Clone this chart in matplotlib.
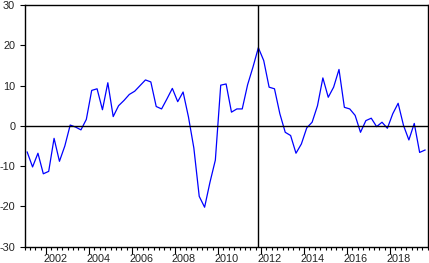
import matplotlib
matplotlib.use("Agg")
import matplotlib.pyplot as plt
import matplotlib.transforms as mtransforms
import numpy as np

# Quarterly series, 2001Q1 .. 2019Q3
start_year = 2001
values = [
    -6.5, -10.2, -6.8, -11.9, -11.3, -3.1, -8.8, -5.0,
    0.2, -0.3, -1.0, 1.6, 8.8, 9.2, 4.0, 10.7,
    2.3, 5.0, 6.3, 7.8, 8.6, 10.0, 11.4, 10.9,
    4.8, 4.2, 6.7, 9.3, 6.0, 8.4, 2.2, -5.5,
    -17.5, -20.2, -14.0, -8.5, 10.1, 10.4, 3.4, 4.2,
    4.2, 10.2, 14.6, 19.4, 16.2, 9.6, 9.2, 3.0,
    -1.6, -2.4, -6.8, -4.5, -0.5, 0.9, 5.0, 11.9,
    7.1, 9.6, 14.0, 4.6, 4.2, 2.6, -1.6, 1.3,
    1.9, -0.2, 0.9, -0.6, 3.0, 5.6, 0.1, -3.5,
    0.6, -6.6, -6.0,
]
year_labels = ["2002", "2004", "2006", "2008", "2010", "2012", "2014", "2016", "2018"]
y_ticks = [-30, -20, -10, 0, 10, 20, 30]
vline_year, vline_quarter = 2011, 4

plt.rcParams['font.family'] = ['Liberation Sans', 'DejaVu Sans']

fig = plt.figure(figsize=(4.29, 2.63), dpi=100)
ax = fig.add_axes([24.5 / 429, 16.3 / 263, (427.7 - 24.5) / 429, (246.7 - 5) / 263])

n = len(values)
x = np.arange(n)
ax.plot(x, values, color='#0000ff', lw=0.9)
ax.axhline(0, color='black', lw=1.0)
vx = (vline_year - start_year) * 4 + (vline_quarter - 1)
ax.axvline(vx, color='black', lw=1.0)

ax.set_xlim(-0.5, n - 0.5)
ax.set_ylim(-30, 30)

# y axis
ax.set_yticks(y_ticks)
ax.set_yticklabels([str(v) for v in y_ticks], fontsize=7.8)
ax.tick_params(axis='y', direction='out', length=3.3, width=0.8, pad=3.4,
               colors='black', labelcolor='#222222')

# x axis: quarter ticks at quarter boundaries, longer ticks at even-year starts
major_pos = [(int(lbl) - start_year) * 4 - 0.5 for lbl in year_labels]
minor_pos = [i - 0.5 for i in range(n + 1)]
ax.set_xticks(major_pos)
ax.set_xticklabels([''] * len(major_pos))
ax.set_xticks(minor_pos, minor=True)
ax.tick_params(axis='x', which='major', direction='out', length=5, width=0.8, colors='black')
ax.tick_params(axis='x', which='minor', direction='out', length=2.2, width=0.8, colors='black')

trans = mtransforms.blended_transform_factory(ax.transData, ax.transAxes)
off = mtransforms.ScaledTranslation(9 / 100, -7.5 / 100, fig.dpi_scale_trans)
for p, lbl in zip(major_pos, year_labels):
    ax.text(p, 0, lbl, transform=trans + off, ha='center', va='top',
            fontsize=7.8, color='#222222')

for s in ax.spines.values():
    s.set_linewidth(1.0)
    s.set_color('black')

fig.savefig('out.png', dpi=100)
